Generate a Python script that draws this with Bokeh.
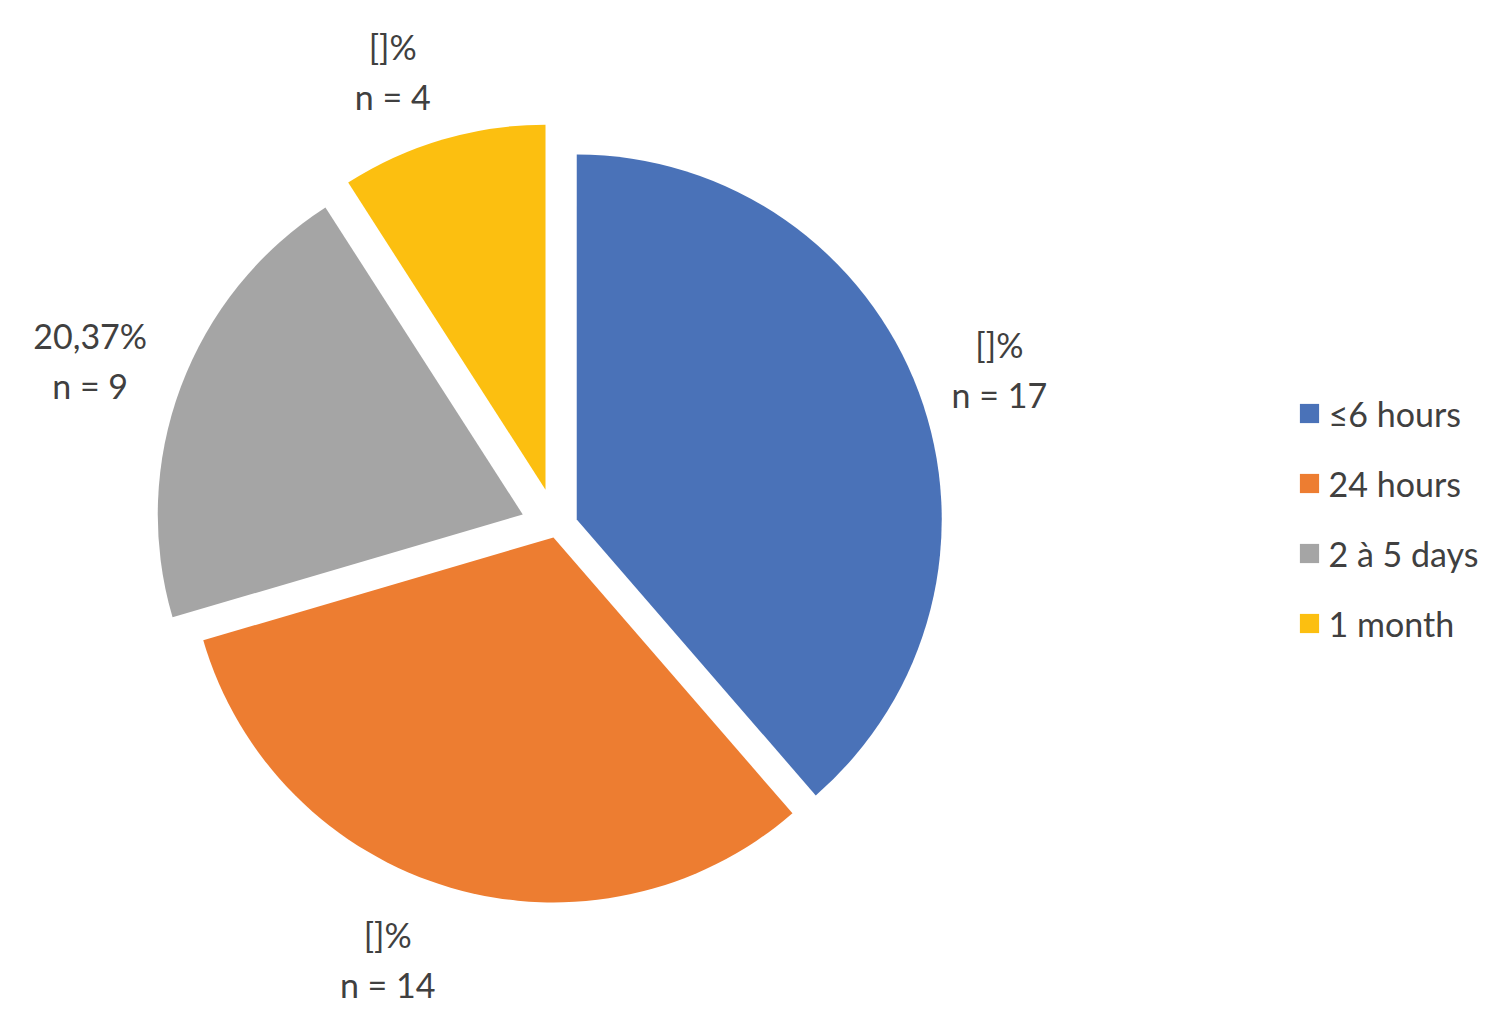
import math
from bokeh.plotting import figure
from bokeh.models import ColumnDataSource, Legend, LegendItem, Range1d
from bokeh.core.properties import value
from bokeh.embed import file_html
from bokeh.resources import INLINE

# ---- data ----
categories = ["≤6 hours", "24 hours", "2 à 5 days", "1 month"]
counts = [17, 14, 9, 4]
pct_labels = ["[]%", "[]%", "20,37%", "[]%"]

# ---- style ----
colors = ["#4A72B8", "#ED7D31", "#A5A5A5", "#FCBF10"]
explode = [21.6, 10.8, 36.0, 39.0]          # per-slice explosion (px)
label_nudge_x = [1, -39, -11, -26]
label_nudge_y = [-7.5, 10, -3, -14]

W, H = 1484, 1006
cx, cy = 556.0, 479.4
R = 365.0
label_r = 450.0
line_gap = 25.0
FONT = "Lato"
FONT_SIZE = "34px"
TEXT_COLOR = "#404040"

total = sum(counts)
xs, ys, starts, ends = [], [], [], []
pct_x, pct_y, n_x, n_y, n_text = [], [], [], [], []
acc = 0.0
for i, v in enumerate(counts):
    a0 = acc / total * 2 * math.pi
    acc += v
    a1 = acc / total * 2 * math.pi
    mid = (a0 + a1) / 2
    dx, dy = math.sin(mid), math.cos(mid)
    vx = cx + explode[i] * dx
    vy = cy + explode[i] * dy
    xs.append(vx)
    ys.append(vy)
    starts.append(math.pi / 2 - a1)
    ends.append(math.pi / 2 - a0)
    lx = vx + label_r * dx + label_nudge_x[i]
    ly = vy + label_r * dy + label_nudge_y[i]
    pct_x.append(lx)
    pct_y.append(ly + line_gap)
    n_x.append(lx)
    n_y.append(ly - line_gap)
    n_text.append(f"n = {v}")

src = ColumnDataSource(dict(x=xs, y=ys, start=starts, end=ends, color=colors, cat=categories))

p = figure(width=W, height=H, x_range=Range1d(0, W), y_range=Range1d(0, H),
           output_backend="svg", toolbar_location=None, min_border=0,
           x_axis_type=None, y_axis_type=None)
p.grid.visible = False
p.outline_line_color = None
p.background_fill_color = "white"
p.border_fill_color = "white"

r = p.wedge(x="x", y="y", radius=R, start_angle="start", end_angle="end",
            direction="anticlock", fill_color="color", line_color=None, source=src)

p.text(x=pct_x, y=pct_y, text=pct_labels, text_font=value(FONT), text_font_size=FONT_SIZE,
       text_color=TEXT_COLOR, text_align="center", text_baseline="middle")
p.text(x=n_x, y=n_y, text=n_text, text_font=value(FONT), text_font_size=FONT_SIZE,
       text_color=TEXT_COLOR, text_align="center", text_baseline="middle")

legend = Legend(items=[LegendItem(label=categories[i], renderers=[r], index=i) for i in range(len(categories))],
                location=(1296.6, 362.5), orientation="vertical",
                glyph_width=24, glyph_height=24, label_standoff=8, spacing=29,
                padding=0, margin=0, border_line_color=None, background_fill_alpha=0,
                label_text_font=FONT, label_text_font_size=FONT_SIZE, label_text_color=TEXT_COLOR)
p.add_layout(legend)

open("out.html", "w").write(file_html(p, INLINE))
